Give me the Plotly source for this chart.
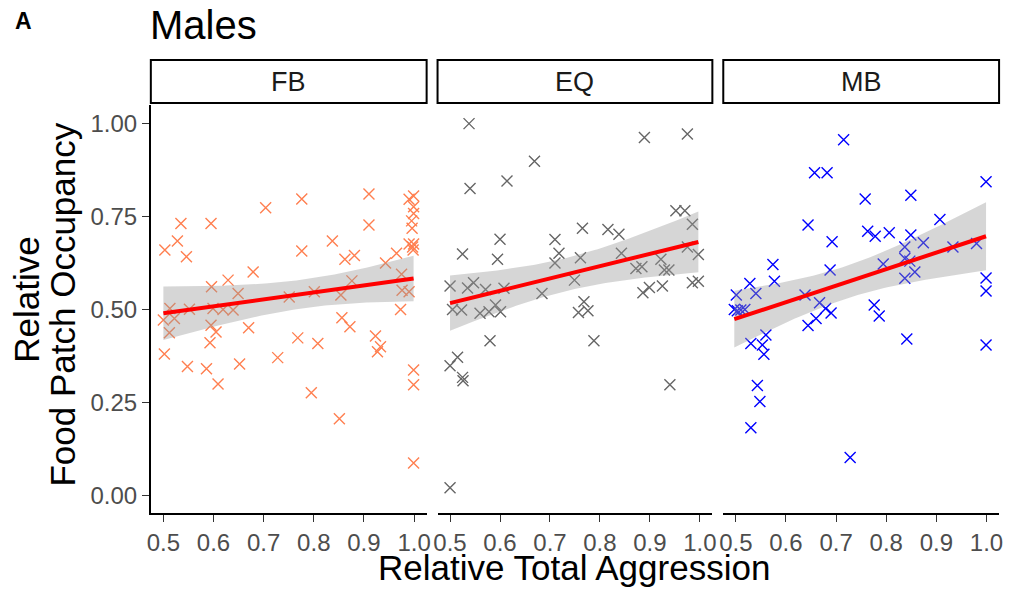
import numpy as np
import plotly.graph_objects as go

# ---------------- data ----------------
panels = ["FB", "EQ", "MB"]
colors = ["#FF7F50", "#666666", "#0000FF"]

fb_x = [0.503, 0.528, 0.535, 0.546, 0.595, 0.704, 0.776, 0.776, 0.837, 0.862, 0.881, 0.910, 0.910, 0.943,
        0.965, 0.975, 0.976, 0.990, 0.679, 0.629, 0.596, 0.876, 0.649, 0.801, 0.854, 0.751,
        0.999, 0.990, 0.999, 0.999, 0.995, 0.996, 0.990, 0.999, 0.998, 0.997,
        0.500, 0.513, 0.522, 0.512, 0.552, 0.599, 0.619, 0.639, 0.595, 0.605, 0.593, 0.670, 0.502, 0.548,
        0.586, 0.609, 0.652, 0.728, 0.768, 0.808, 0.795, 0.851, 0.856, 0.872, 0.923, 0.933, 0.927, 0.973,
        0.999, 0.999, 0.999]
fb_y = [0.660, 0.684, 0.731, 0.642, 0.731, 0.773, 0.797, 0.657, 0.684, 0.635, 0.645, 0.810, 0.727, 0.625,
        0.651, 0.595, 0.552, 0.548, 0.601, 0.579, 0.561, 0.577, 0.543, 0.548, 0.539, 0.534,
        0.805, 0.796, 0.776, 0.758, 0.738, 0.718, 0.676, 0.676, 0.660, 0.668,
        0.472, 0.503, 0.476, 0.438, 0.501, 0.503, 0.500, 0.499, 0.458, 0.440, 0.411, 0.451, 0.381, 0.347,
        0.341, 0.300, 0.354, 0.371, 0.424, 0.409, 0.277, 0.207, 0.478, 0.454, 0.429, 0.400, 0.387, 0.500,
        0.338, 0.298, 0.088]

eq_x = [0.538, 0.540, 0.614, 0.669, 0.889, 0.975, 0.952, 0.970, 0.985, 0.525, 0.600, 0.595, 0.710, 0.718,
        0.710, 0.765, 0.761, 0.816, 0.838, 0.843, 0.749, 0.872, 0.884, 0.922, 0.929, 0.938, 0.975, 0.997,
        0.985, 0.997, 0.500, 0.535, 0.547, 0.571, 0.608, 0.684, 0.886, 0.899, 0.925, 0.768, 0.757, 0.776,
        0.505, 0.523, 0.560, 0.578, 0.591, 0.601, 0.580, 0.788, 0.515, 0.500, 0.525, 0.526, 0.940, 0.500]
eq_y = [0.999, 0.825, 0.845, 0.898, 0.962, 0.971, 0.765, 0.765, 0.729, 0.649, 0.689, 0.635, 0.688, 0.651,
        0.625, 0.718, 0.639, 0.715, 0.702, 0.651, 0.579, 0.610, 0.615, 0.635, 0.606, 0.606, 0.668, 0.648,
        0.572, 0.576, 0.563, 0.558, 0.572, 0.554, 0.557, 0.543, 0.545, 0.559, 0.563, 0.521, 0.492, 0.497,
        0.500, 0.499, 0.490, 0.494, 0.512, 0.494, 0.416, 0.416, 0.372, 0.349, 0.318, 0.309, 0.298, 0.022]

mb_x = [0.715, 0.657, 0.682, 0.999, 0.758, 0.849, 0.907, 0.644, 0.763, 0.778, 0.806, 0.849, 0.692, 0.874,
        0.837, 0.933, 0.980, 0.837, 0.847, 0.857, 0.837, 0.794, 0.688, 0.574, 0.577, 0.528, 0.999, 0.999,
        0.501, 0.540, 0.638, 0.667, 0.497, 0.510, 0.518, 0.503, 0.679, 0.690, 0.660, 0.644, 0.776, 0.786,
        0.560, 0.530, 0.553, 0.556, 0.841, 0.999, 0.543, 0.548, 0.530, 0.728]
mb_y = [0.956, 0.867, 0.867, 0.843, 0.797, 0.807, 0.742, 0.727, 0.710, 0.697, 0.706, 0.700, 0.682, 0.679,
        0.668, 0.668, 0.677, 0.637, 0.630, 0.601, 0.584, 0.622, 0.606, 0.621, 0.576, 0.570, 0.585, 0.550,
        0.539, 0.543, 0.539, 0.518, 0.500, 0.499, 0.500, 0.497, 0.503, 0.491, 0.476, 0.457, 0.512, 0.483,
        0.432, 0.409, 0.405, 0.380, 0.421, 0.405, 0.296, 0.253, 0.183, 0.103]

x_ticks = [0.5, 0.6, 0.7, 0.8, 0.9, 1.0]
x_ticklabels = ["0.5", "0.6", "0.7", "0.8", "0.9", "1.0"]
y_ticks = [0.0, 0.25, 0.5, 0.75, 1.0]
y_ticklabels = ["0.00", "0.25", "0.50", "0.75", "1.00"]
T_CRIT = 2.0  # ~95% t quantile for n-2 ≈ 55 df

series = [(fb_x, fb_y), (eq_x, eq_y), (mb_x, mb_y)]

# ---------------- layout geometry ----------------
W, H = 1013, 594
panel_px = [(148, 426), (437, 714), (725, 1003)]
plot_top, plot_bot = 105, 513
FONT = "Liberation Sans, Arial, Helvetica, sans-serif"

fig = go.Figure()
layout_axes = {}
for i, ((xs, ys), col) in enumerate(zip(series, colors)):
    xa = "x" if i == 0 else f"x{i+1}"
    ya = "y" if i == 0 else f"y{i+1}"
    x = np.array(xs); y = np.array(ys)
    fig.add_trace(go.Scatter(x=x, y=y, mode="markers", xaxis=xa, yaxis=ya,
                             marker=dict(symbol="x-thin-open", size=11, color=col,
                                         line=dict(width=1.4, color=col)),
                             showlegend=False, hoverinfo="skip"))
    # OLS fit with 95% CI
    n = len(x)
    b1, b0 = np.polyfit(x, y, 1)
    resid = y - (b0 + b1 * x)
    s = np.sqrt(np.sum(resid ** 2) / (n - 2))
    sxx = np.sum((x - x.mean()) ** 2)
    xg = np.linspace(x.min(), x.max(), 80)
    yg = b0 + b1 * xg
    se = s * np.sqrt(1.0 / n + (xg - x.mean()) ** 2 / sxx)
    lo, hi = yg - T_CRIT * se, yg + T_CRIT * se
    fig.add_trace(go.Scatter(x=np.concatenate([xg, xg[::-1]]), y=np.concatenate([hi, lo[::-1]]),
                             mode="lines", fill="toself", fillcolor="rgba(153,153,153,0.4)",
                             line=dict(width=0), xaxis=xa, yaxis=ya, showlegend=False, hoverinfo="skip"))
    fig.add_trace(go.Scatter(x=xg, y=yg, mode="lines", line=dict(color="#FF0000", width=4),
                             xaxis=xa, yaxis=ya, showlegend=False, hoverinfo="skip"))

    l, r = panel_px[i]
    xkey = "xaxis" if i == 0 else f"xaxis{i+1}"
    ykey = "yaxis" if i == 0 else f"yaxis{i+1}"
    layout_axes[xkey] = dict(domain=[l / W, r / W], range=[0.475, 1.025], anchor=ya,
                             tickvals=x_ticks, ticktext=x_ticklabels, ticks="outside", ticklen=7,
                             tickwidth=1.3, tickcolor="#333333", showline=True, linecolor="black",
                             linewidth=1.6, showgrid=False, zeroline=False,
                             tickfont=dict(family=FONT, size=24, color="#4D4D4D"), fixedrange=True)
    ydict = dict(domain=[(H - plot_bot) / H, (H - plot_top) / H], range=[-0.046, 1.049], anchor=xa,
                 showgrid=False, zeroline=False, fixedrange=True)
    if i == 0:
        ydict.update(tickvals=y_ticks, ticktext=y_ticklabels, ticks="outside", ticklen=7,
                     tickwidth=1.3, tickcolor="#333333", showline=True, linecolor="black",
                     linewidth=1.6, tickfont=dict(family=FONT, size=24, color="#4D4D4D"))
    else:
        ydict.update(showticklabels=False, showline=False, ticks="")
    layout_axes[ykey] = ydict

shapes = []
annotations = []
strip_top, strip_bot = 60, 103
for i, name in enumerate(panels):
    l, r = panel_px[i]
    shapes.append(dict(type="rect", xref="paper", yref="paper", x0=l / W, x1=r / W,
                       y0=(H - strip_bot) / H, y1=(H - strip_top) / H,
                       line=dict(color="black", width=2), fillcolor="white", layer="above"))
    annotations.append(dict(text=name, xref="paper", yref="paper", x=(l + r) / 2 / W,
                            y=(H - (strip_top + strip_bot) / 2) / H, showarrow=False,
                            xanchor="center", yanchor="middle",
                            font=dict(family=FONT, size=27, color="#1A1A1A")))

annotations += [
    dict(text="<b>A</b>", xref="paper", yref="paper", x=9 / W, y=1 - 21 / H, xanchor="left",
         yanchor="middle", showarrow=False, font=dict(family=FONT, size=23, color="black")),
    dict(text="Males", xref="paper", yref="paper", x=145 / W, y=1 - 25 / H, xanchor="left",
         yanchor="middle", showarrow=False, font=dict(family=FONT, size=40, color="black")),
    dict(text="Relative Total Aggression", xref="paper", yref="paper", x=575 / W, y=1 - 567 / H,
         xanchor="center", yanchor="middle", showarrow=False,
         font=dict(family=FONT, size=35, color="black")),
    dict(text="Relative", xref="paper", yref="paper", x=22 / W,
         y=1 - 300 / H, xanchor="center", yanchor="middle", showarrow=False, textangle=-90,
         font=dict(family=FONT, size=35, color="black")),
    dict(text="Food Patch Occupancy", xref="paper", yref="paper", x=58 / W,
         y=1 - 305 / H, xanchor="center", yanchor="middle", showarrow=False, textangle=-90,
         font=dict(family=FONT, size=35, color="black")),
]

fig.update_layout(width=W, height=H, margin=dict(l=0, r=0, t=0, b=0),
                  plot_bgcolor="white", paper_bgcolor="white",
                  shapes=shapes, annotations=annotations, **layout_axes)

fig.write_html("out.html", config={"displayModeBar": False},
               post_script="document.body.style.margin='0px';")
